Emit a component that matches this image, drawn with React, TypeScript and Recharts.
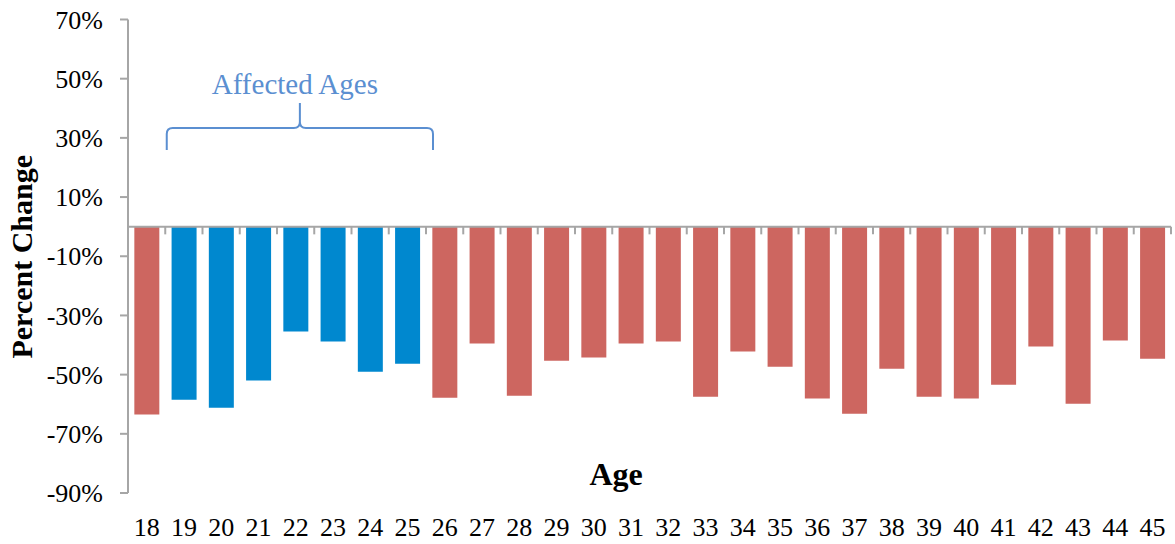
import { BarChart, Bar, XAxis, YAxis, Cell, ReferenceLine, ReferenceArea } from "recharts";

const ages = [
  "18", "19", "20", "21", "22", "23", "24", "25", "26", "27", "28", "29", "30", "31",
  "32", "33", "34", "35", "36", "37", "38", "39", "40", "41", "42", "43", "44", "45",
];
const changes = [
  -63.5, -58.5, -61.2, -52.0, -35.4, -38.8, -49.0, -46.3, -57.8, -39.5, -57.1, -45.3, -44.2, -39.5,
  -38.8, -57.5, -42.2, -47.3, -58.1, -63.2, -48.0, -57.5, -58.1, -53.4, -40.5, -59.8, -38.5, -44.6,
];
const affectedAges = ["19", "20", "21", "22", "23", "24", "25"];
const yTicks = [-90, -70, -50, -30, -10, 10, 30, 50, 70];

const data = ages.map((age, i) => ({ age, change: changes[i] }));

const FONT = "'Liberation Serif', serif";
const RED = "#CD6660";
const BLUE = "#0088CF";
const AXIS = "#A6A6A6";
const NOTE = "#5B8FD1";

function Brace(props: any) {
  const { x, y, width, height } = props;
  const left = x + 1.5;
  const right = x + width + 7;
  const cx = (left + right) / 2;
  const top = y;
  const bottom = y + height;
  const mid = y + height * 0.53;
  const r = 6;
  const d = [
    `M ${left} ${bottom} L ${left} ${mid + r} Q ${left} ${mid} ${left + r} ${mid}`,
    `L ${cx - r} ${mid} Q ${cx} ${mid} ${cx} ${mid - r} L ${cx} ${top}`,
    `M ${cx} ${mid - r} Q ${cx} ${mid} ${cx + r} ${mid}`,
    `L ${right - r} ${mid} Q ${right} ${mid} ${right} ${mid + r} L ${right} ${bottom}`,
  ].join(" ");
  return (
    <g>
      <path d={d} fill="none" stroke={NOTE} strokeWidth={2} />
      <text x={cx - 5} y={top - 9} textAnchor="middle" fill={NOTE} fontFamily={FONT} fontSize={29}>
        Affected Ages
      </text>
    </g>
  );
}

function AgeLabel(props: any) {
  const { viewBox } = props;
  return (
    <text
      x={viewBox.x + viewBox.width * 0.468}
      y={viewBox.y}
      textAnchor="middle"
      fontFamily={FONT}
      fontWeight="bold"
      fontSize={32}
      fill="#000"
    >
      Age
    </text>
  );
}

function YTitle(props: any) {
  const { viewBox } = props;
  const bx = 32;
  const cy = viewBox.y + viewBox.height / 2 + 0.5;
  return (
    <text
      x={bx}
      y={cy}
      transform={`rotate(-90 ${bx} ${cy})`}
      textAnchor="middle"
      fontFamily={FONT}
      fontWeight="bold"
      fontSize={30}
      fill="#000"
    >
      Percent Change
    </text>
  );
}

export default function App() {
  return (
    <div>
      <style>{`body{margin:0;background:#fff}`}</style>
      <BarChart
        width={1175}
        height={544}
        data={data}
        margin={{ top: 19.5, right: 4, left: 0, bottom: 0 }}
        barCategoryGap="17%"
      >
        <XAxis
          dataKey="age"
          height={51}
          axisLine={false}
          tickLine={false}
          tickSize={0}
          tickMargin={25}
          interval={0}
          tick={{ fontFamily: FONT, fontSize: 26, fill: "#000" }}
        />
        <YAxis
          width={128}
          domain={[-90, 70]}
          ticks={yTicks}
          interval={0}
          tickFormatter={(v: number) => `${v}%`}
          axisLine={{ stroke: AXIS, strokeWidth: 2 }}
          tickLine={{ stroke: AXIS, strokeWidth: 2 }}
          tickSize={8}
          tickMargin={17}
          tick={{ fontFamily: FONT, fontSize: 26, fill: "#000" }}
          label={<YTitle />}
        />
        <Bar dataKey="change" isAnimationActive={false}>
          {data.map((d) => (
            <Cell key={d.age} fill={affectedAges.includes(d.age) ? BLUE : RED} />
          ))}
        </Bar>
        <ReferenceLine y={0} stroke={AXIS} strokeWidth={2} />
        {/* small marks on the zero line between categories */}
        {ages.map((age) => (
          <ReferenceLine
            key={`t${age}`}
            position="end"
            ifOverflow="visible"
            segment={[
              { x: age, y: 0 },
              { x: age, y: -2.6 },
            ]}
            stroke={AXIS}
            strokeWidth={2}
          />
        ))}
        <ReferenceArea
          x1="19"
          x2="25"
          y1={25.9}
          y2={41.8}
          shape={<Brace />}
        />
        <ReferenceLine y={-87.3} stroke="none" label={<AgeLabel />} />
      </BarChart>
    </div>
  );
}
